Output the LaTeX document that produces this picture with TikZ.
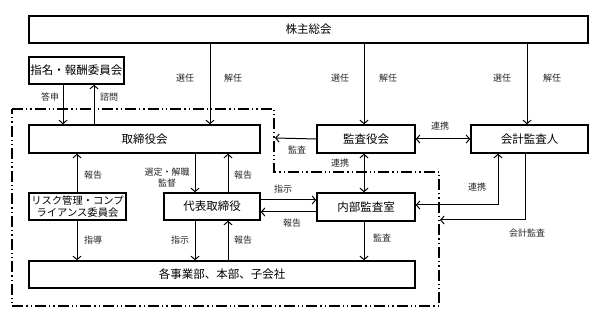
\documentclass[tikz,border=0pt]{standalone}
\usepackage{fontspec}
\setmainfont{Noto Sans CJK JP}
\usetikzlibrary{arrows.meta}
\begin{document}
\begin{tikzpicture}[x=1pt,y=-1pt,
  box/.style={draw,line width=1.4pt,rectangle,inner sep=0pt,font=\fontsize{11.5}{13}\selectfont},
  lbl/.style={inner sep=0pt,text=black!85,font=\fontsize{9}{10}\selectfont},
  arr/.style={line width=1pt,-{Straight Barb[length=3.5pt,width=8pt,line width=1pt]}},
  darr/.style={line width=1pt,{Straight Barb[length=3.5pt,width=8pt,line width=1pt]}-{Straight Barb[length=3.5pt,width=8pt,line width=1pt]}},
  ln/.style={line width=1pt},
  bound/.style={line width=1.1pt,dash pattern=on 11pt off 3pt on 1.3pt off 3pt on 1.3pt off 3pt}]
\useasboundingbox (0,0) rectangle (592,315);
\fill[white] (0,0) rectangle (592,315);
% boundary
\draw[bound] (12,109) -- (274,109) -- (274,172) -- (439,172) -- (439,306) -- (12,306) -- cycle;
% boxes
\node[box,minimum width=559pt,minimum height=27pt] (kabu) at (308.5,29.5) {株主総会};
\node[box,minimum width=95pt,minimum height=27pt] (shimei) at (76.5,70.5) {指名・報酬委員会};
\node[box,minimum width=231pt,minimum height=28pt] (tori) at (144.5,139) {取締役会};
\node[box,minimum width=98pt,minimum height=28pt] (kansa) at (366,139) {監査役会};
\node[box,minimum width=117pt,minimum height=28pt] (kaikei) at (529.5,139) {会計監査人};
\node[box,minimum width=97pt,minimum height=27pt,align=center,font=\fontsize{10.3}{12}\selectfont] (risk) at (77.5,206.5) {リスク管理・コンプ\\ライアンス委員会};
\node[box,minimum width=96pt,minimum height=27pt] (daihyo) at (212,206.5) {代表取締役};
\node[box,minimum width=98pt,minimum height=28pt] (naibu) at (366,207) {内部監査室};
\node[box,minimum width=386pt,minimum height=27pt] (kaku) at (222,274.5) {各事業部、本部、子会社};
% column coordinates
\coordinate (c63) at (63,0);
\coordinate (c94) at (94,0);
\coordinate (c77) at (77,0);
\coordinate (c195) at (195,0);
\coordinate (c210) at (210,0);
\coordinate (c228) at (228,0);
\coordinate (c364) at (364,0);
\coordinate (c498) at (498,0);
\coordinate (c525) at (525,0);
\coordinate (c527) at (527,0);
\coordinate (r200) at (0,200);
\coordinate (r212) at (0,212);
\coordinate (kansaT) at (275,138);
\coordinate (kaikeiT) at (440,220);
\coordinate (bend1) at (498,205);
\coordinate (bend2) at (525,220);
% connectors
\draw[arr] (shimei.south -| c63) -- (tori.north -| c63);
\draw[arr] (tori.north -| c94) -- (shimei.south -| c94);
\draw[arr] (kabu.south -| c210) -- (tori.north -| c210);
\draw[arr] (kabu.south -| c364) -- (kansa.north -| c364);
\draw[arr] (kabu.south -| c527) -- (kaikei.north -| c527);
\draw[darr] (kansa.east) -- (kaikei.west);
\draw[arr] (kansa.west) -- (kansaT);
\draw[arr] (risk.north -| c77) -- (tori.south -| c77);
\draw[arr] (risk.south -| c77) -- (kaku.north -| c77);
\draw[arr] (tori.south -| c195) -- (daihyo.north -| c195);
\draw[arr] (daihyo.north -| c228) -- (tori.south -| c228);
\draw[arr] (daihyo.south -| c195) -- (kaku.north -| c195);
\draw[arr] (kaku.north -| c228) -- (daihyo.south -| c228);
\draw[arr] (daihyo.east |- r200) -- (naibu.west |- r200);
\draw[arr] (naibu.west |- r212) -- (daihyo.east |- r212);
\draw[darr] (kansa.south -| c364) -- (naibu.north -| c364);
\draw[arr] (naibu.south -| c364) -- (kaku.north -| c364);
\draw[darr] (naibu.east |- bend1) -- (bend1) -- (kaikei.south -| c498);
\draw[ln,-{Straight Barb[length=3.5pt,width=8pt,line width=1pt]}] (kaikei.south -| c525) -- (bend2) -- (kaikeiT);
% labels
\node[lbl] (l1) at (50,97) {答申};
\node[lbl] (l2) at (109,97) {諮問};
\node[lbl] (l3) at (185,78) {選任};
\node[lbl] (l4) at (233,78) {解任};
\node[lbl] (l5) at (340,78) {選任};
\node[lbl] (l6) at (388,78) {解任};
\node[lbl] (l7) at (502,78) {選任};
\node[lbl] (l8) at (552,78) {解任};
\node[lbl] (l9) at (440,126) {連携};
\node[lbl] (l10) at (297,150) {監査};
\node[lbl] (l11) at (93,175) {報告};
\node[lbl] (l12) at (167,172) {選定・解職};
\node[lbl] (l13) at (167,183.5) {監督};
\node[lbl] (l14) at (243,175) {報告};
\node[lbl] (l15) at (283,189) {指示};
\node[lbl] (l16) at (292,223) {報告};
\node[lbl] (l17) at (340,163) {連携};
\node[lbl] (l18) at (477,187) {連携};
\node[lbl] (l19) at (527,233) {会計監査};
\node[lbl] (l20) at (93,240) {指導};
\node[lbl] (l21) at (180,240) {指示};
\node[lbl] (l22) at (243,240) {報告};
\node[lbl] (l23) at (382,238) {監査};
\end{tikzpicture}
\end{document}
